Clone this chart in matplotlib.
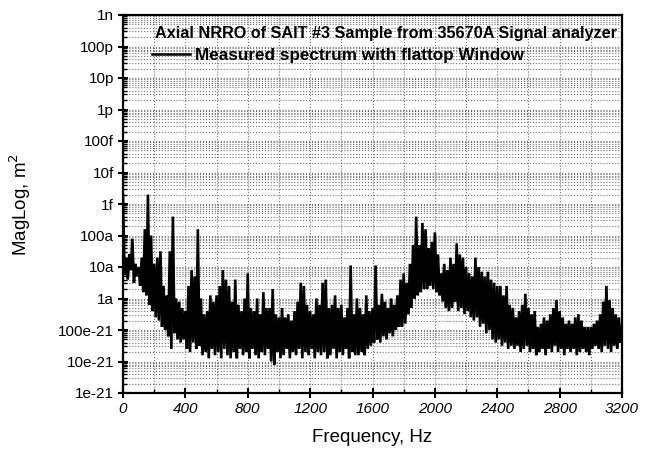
import numpy as np
import matplotlib
matplotlib.use("Agg")
import matplotlib.pyplot as plt
from matplotlib.ticker import FixedLocator, MultipleLocator, LogLocator, NullFormatter

# ---- data (log10 of magnitude, m^2) ----
# local maxima read at f = 0, 20, 40, ... 3200 Hz
upper_freq = list(range(0, 3201, 20))
upper_exp = [
    -14.7, -16.7, -16.6, -16.1, -16.9, -17.0, -16.7, -15.8, -14.7, -16.0,
    -16.9, -16.7, -16.5, -17.6, -17.9, -16.5, -15.4, -18.0, -18.1, -18.3,
    -18.4, -17.6, -17.1, -17.3, -15.8, -18.0, -18.5, -18.4, -17.9, -18.1,
    -17.9, -17.6, -17.1, -17.4, -17.6, -18.1, -17.4, -18.2, -18.4, -18.0,
    -17.2, -18.3, -18.4, -18.0, -18.5, -17.8, -18.3, -18.3, -17.7, -18.5,
    -18.6, -18.3, -18.6, -18.5, -18.7, -18.4, -18.1, -17.5, -17.6, -18.2,
    -18.4, -18.5, -18.0, -18.2, -17.5, -17.4, -18.3, -18.2, -17.9, -18.3,
    -18.2, -18.6, -18.3, -16.95, -18.5, -18.0, -18.3, -18.5, -17.9, -18.4,
    -18.3, -16.95, -18.2, -17.85, -18.1, -18.3, -18.0, -18.2, -17.9, -17.4,
    -17.2, -17.5, -16.9, -16.3, -15.4, -16.3, -15.6, -15.8, -16.4, -16.2,
    -15.9, -16.6, -17.2, -16.9, -17.1, -16.7, -16.9, -16.25, -16.6, -16.7,
    -17.0, -17.2, -17.3, -16.7, -17.0, -17.15, -17.3, -17.15, -17.4, -17.5,
    -17.6, -17.6, -17.9, -17.6, -18.2, -18.3, -18.6, -18.4, -18.2, -17.85,
    -18.3, -18.5, -18.4, -18.9, -18.8, -18.6, -18.7, -18.5, -18.3, -18.05,
    -18.4, -18.6, -18.8, -18.7, -18.8, -18.6, -18.5, -18.7, -18.9, -18.9,
    -18.9, -18.8, -18.7, -18.5, -18.1, -17.6, -18.05, -18.3, -18.5, -18.6,
    -18.9,
]
# local minima read at f = 10, 30, 50, ... 3190 Hz
lower_freq = list(range(10, 3200, 20))
lower_exp = [
    -17.2, -17.4, -17.1, -17.5, -17.3, -17.6, -17.8, -17.9, -18.2, -18.4,
    -18.6, -18.7, -18.9, -19.0, -19.2, -19.6, -19.1, -19.3, -19.4, -19.3,
    -19.6, -19.7, -19.4, -19.6, -19.5, -19.8, -19.7, -19.9, -19.6, -19.8,
    -19.7, -19.9, -19.6, -19.8, -19.9, -19.7, -19.9, -19.6, -19.8, -19.7,
    -19.9, -19.6, -19.8, -19.9, -19.7, -19.8, -19.6, -20.0, -20.1, -19.7,
    -19.9, -19.8, -19.6, -19.9, -19.7, -19.8, -19.6, -19.9, -19.7, -19.8,
    -19.6, -19.9, -19.7, -19.8, -19.7, -19.9, -19.8, -19.6, -19.9, -19.7,
    -19.8, -19.6, -19.9, -19.7, -19.8, -19.8, -19.7, -19.8, -19.6, -19.5,
    -19.4, -19.3, -19.4, -19.2, -19.3, -19.1, -19.2, -19.0, -18.9, -18.9,
    -18.8, -18.5, -18.3, -18.0, -17.9, -17.8, -17.7, -17.7, -17.6, -17.7,
    -17.8, -17.9, -18.1, -18.3, -18.4, -18.3, -18.1, -18.4, -18.3, -18.5,
    -18.4, -18.6, -18.7, -18.6, -18.9, -18.8, -19.1, -19.0, -19.3, -19.4,
    -19.3, -19.5, -19.4, -19.6, -19.5, -19.6, -19.5, -19.7, -19.6, -19.5,
    -19.7, -19.6, -19.8, -19.7, -19.6, -19.8, -19.6, -19.7, -19.5, -19.7,
    -19.6, -19.8, -19.6, -19.7, -19.6, -19.8, -19.7, -19.6, -19.7, -19.8,
    -19.6, -19.5, -19.6, -19.7, -19.5, -19.6, -19.7, -19.5, -19.6, -19.4,
]

ytick_vals = [1e-21, 1e-20, 1e-19, 1e-18, 1e-17, 1e-16, 1e-15, 1e-14, 1e-13,
              1e-12, 1e-11, 1e-10, 1e-9]
ytick_labels = ["1e-21", "10e-21", "100e-21", "1a", "10a", "100a", "1f",
                "10f", "100f", "1p", "10p", "100p", "1n"]
xtick_vals = [0, 400, 800, 1200, 1600, 2000, 2400, 2800, 3200]

title_text = "Axial NRRO of SAIT #3 Sample from 35670A Signal analyzer"
legend_text = "Measured spectrum with flattop Window"

# merge the two read series in frequency order
freq = np.array(upper_freq + lower_freq, dtype=float)
expo = np.array(upper_exp + lower_exp, dtype=float)
order = np.argsort(freq)
freq = freq[order]
mag = 10.0 ** expo[order]

plt.rcParams['font.family'] = ['Liberation Sans', 'DejaVu Sans']

fig = plt.figure(figsize=(6.52, 4.5), dpi=100)
ax = fig.add_axes([123 / 652, 1 - 393 / 450, (622 - 123) / 652, (393 - 15) / 450])

ax.plot(freq, mag, color='black', lw=1.9, label=legend_text, solid_joinstyle='miter')

ax.set_yscale('log')
ax.set_xlim(0, 3200)
ax.set_ylim(1e-21, 1e-9)

ax.yaxis.set_major_locator(FixedLocator(ytick_vals))
ax.set_yticklabels(ytick_labels, fontsize=11)
ax.yaxis.set_minor_locator(LogLocator(base=10, subs=np.arange(2, 10), numticks=100))
ax.yaxis.set_minor_formatter(NullFormatter())

ax.xaxis.set_major_locator(FixedLocator(xtick_vals))
ax.set_xticklabels([str(v) for v in xtick_vals], fontsize=11, style='italic')
ax.xaxis.set_minor_locator(MultipleLocator(200))

ax.grid(True, which='both', axis='both', color='#707070', linestyle=':', lw=0.8)
ax.set_axisbelow(True)

ax.tick_params(which='major', direction='inout', length=7, width=1.5, pad=3)
ax.tick_params(which='minor', direction='in', length=3, width=1.0)
for s in ax.spines.values():
    s.set_linewidth(1.6)

ax.set_xlabel("Frequency, Hz", fontsize=13.5)
ax.set_ylabel("MagLog, m$^2$", fontsize=13.5)
ax.xaxis.set_label_coords(0.5, -0.095)
ax.yaxis.set_label_coords(-0.18, 0.5)

ax.text(0.528, 0.95, title_text, transform=ax.transAxes, ha='center', va='center',
        fontsize=11.7, fontweight='bold')
leg = ax.legend(loc='center left', bbox_to_anchor=(0.058, 0.894), frameon=False,
                prop={'size': 12.3, 'weight': 'bold'}, handlelength=2.2,
                handletextpad=0.3, borderaxespad=0, borderpad=0)
for line in leg.get_lines():
    line.set_linewidth(1.8)

fig.savefig("out.png", dpi=100)
